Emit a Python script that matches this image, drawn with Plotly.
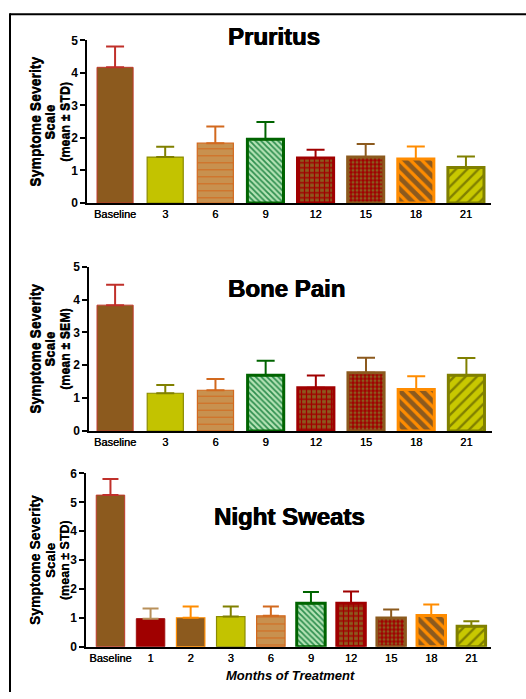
import plotly.graph_objects as go

# ---------------- data ----------------
pruritus_cats = ["Baseline", "3", "6", "9", "12", "15", "18", "21"]
pruritus_mean = [4.17, 1.41, 1.84, 1.96, 1.38, 1.41, 1.35, 1.09]
pruritus_err = [0.64, 0.32, 0.51, 0.53, 0.26, 0.40, 0.39, 0.34]

bone_cats = ["Baseline", "3", "6", "9", "12", "15", "18", "21"]
bone_mean = [3.83, 1.15, 1.24, 1.70, 1.32, 1.77, 1.26, 1.70]
bone_err = [0.62, 0.25, 0.34, 0.44, 0.37, 0.46, 0.41, 0.52]

night_cats = ["Baseline", "1", "2", "3", "6", "9", "12", "15", "18", "21"]
night_mean = [5.25, 0.97, 1.00, 1.04, 1.07, 1.50, 1.50, 0.99, 1.08, 0.71]
night_err = [0.56, 0.35, 0.39, 0.35, 0.32, 0.39, 0.41, 0.30, 0.38, 0.17]

titles = ["Pruritus", "Bone Pain", "Night Sweats"]
ylabel_line3 = ["(mean \u00b1 STD)", "(mean \u00b1 SEM)", "(mean \u00b1 STD)"]
xaxis_title = "Months of Treatment"

# ---------------- styles ----------------
BROWN = "#8c5a1e"
RED = "#a00000"
OLIVE = "#808000"
ORANGE = "#ff8c00"
styles = {
    "Baseline": dict(bg=BROWN, shape="", fg=None, size=8, sol=0.3, lc="#c0392b", lw=1, ec="#c0302a"),
    "1": dict(bg=RED, shape="", fg=None, size=8, sol=0.3, lc="#a01010", lw=1, ec="#b8905a"),
    "2": dict(bg=BROWN, shape="", fg=None, size=8, sol=0.3, lc=ORANGE, lw=1.2, ec=ORANGE),
    "3": dict(bg="#c3c300", shape="", fg=None, size=8, sol=0.3, lc="#8b8b00", lw=1.2, ec=OLIVE),
    "6": dict(bg="#c8914f", shape="-", fg="#d2691e", size=7, sol=0.15, lc="#d2691e", lw=1.2, ec="#d2691e"),
    "9": dict(bg="#b5e3b5", shape="\\", fg="#2f8f4f", size=4, sol=0.45, lc="#006400", lw=3, ec="#006400"),
    "12": dict(bg=BROWN, shape="+", fg=RED, size=5, sol=0.45, lc=RED, lw=3, ec=RED),
    "15": dict(bg=RED, shape=".", fg=BROWN, size=4, sol=0.45, lc=BROWN, lw=3, ec=BROWN),
    "18": dict(bg=BROWN, shape="\\", fg=ORANGE, size=8, sol=0.4, lc=ORANGE, lw=3, ec=ORANGE),
    "21": dict(bg="#c8c800", shape="/", fg=OLIVE, size=8, sol=0.3, lc=OLIVE, lw=3, ec=OLIVE),
}

W, H = 526, 699
FONT = "Liberation Sans, Arial, sans-serif"
HEAVY = "0.6px 0 0 black, -0.3px 0 0 black"

# panel geometry in pixels: (x_left, x_right, y_top, y_bottom, x_range, y_max, bar_width, cap)
panels = [
    (87, 491, 34, 200, [-0.56, 7.5], 5, 0.72, 9),
    (89, 492, 265, 432.7, [-0.52, 7.51], 5, 0.72, 9),
    (86, 491, 476, 652.7, [-0.61, 9.49], 6, 0.71, 8),
]
datasets = [
    (pruritus_cats, pruritus_mean, pruritus_err),
    (bone_cats, bone_mean, bone_err),
    (night_cats, night_mean, night_err),
]

fig = go.Figure()
layout = dict(
    width=W, height=H, margin=dict(l=0, r=0, t=0, b=0),
    paper_bgcolor="white", plot_bgcolor="white",
    showlegend=False, barmode="overlay",
    font=dict(family=FONT, color="black"),
)
annotations = []

for i, ((xl, xr, yt, yb, xrange, ymax, bw, cap), (cats, means, errs)) in enumerate(zip(panels, datasets)):
    n = "" if i == 0 else str(i + 1)
    xa, ya = "x" + n, "y" + n
    for c, m, e in zip(cats, means, errs):
        s = styles[c]
        marker = dict(color=s["bg"], line=dict(color=s["lc"], width=s["lw"]))
        if s["shape"]:
            marker["pattern"] = dict(shape=s["shape"], fgcolor=s["fg"], bgcolor=s["bg"],
                                     size=s["size"], solidity=s["sol"], fgopacity=1)
        fig.add_trace(go.Bar(
            x=[c], y=[m], width=bw, xaxis=xa, yaxis=ya, marker=marker,
            error_y=dict(type="data", symmetric=False, array=[e], arrayminus=[0],
                         color=s["ec"], thickness=2, width=cap),
        ))
    layout["xaxis" + n] = dict(
        domain=[xl / W, xr / W], anchor=ya, type="category",
        categoryorder="array", categoryarray=cats, range=xrange,
        showline=True, linecolor="black", linewidth=2, ticks="",
        showgrid=False, zeroline=False,
        tickfont=dict(size=11, family=FONT, color="black", shadow="0.3px 0 0 black"),
    )
    layout["yaxis" + n] = dict(
        domain=[1 - yb / H, 1 - yt / H], anchor=xa, range=[0, ymax], dtick=1,
        showline=True, linecolor="black", linewidth=1.5, ticks="outside",
        ticklen=5, tickwidth=1.5, tickcolor="black", showgrid=False, zeroline=False,
        tickfont=dict(size=12, family=FONT, color="black", weight="bold"),
    )
    yc = 1 - ((yt + yb) / 2) / H
    lines = [("Symptome Severity", 35, 14), ("Scale", 50, 13.5), (ylabel_line3[i], 65, 12.5)]
    for txt, xp, fs in lines:
        annotations.append(dict(
            text=txt, xref="paper", yref="paper", x=xp / W, y=yc,
            xanchor="center", yanchor="middle", textangle=-90, showarrow=False,
            font=dict(size=fs, family=FONT, color="black", weight="bold",
                      shadow="0 0.4px 0 black"),
        ))

title_pos = [(274, 30), (286, 287), (289, 520)]
for t, (tx, ty) in zip(titles, title_pos):
    annotations.append(dict(
        text=t, xref="paper", yref="paper", x=tx / W, y=1 - ty / H,
        xanchor="center", yanchor="middle", showarrow=False,
        font=dict(size=24, family=FONT, color="black", weight="bold", shadow=HEAVY),
    ))

annotations.append(dict(
    text="<b><i>" + xaxis_title + "</i></b>", xref="paper", yref="paper",
    x=290 / W, y=1 - 682 / H, xanchor="center", yanchor="middle", showarrow=False,
    font=dict(size=13, family=FONT, color="black"),
))

layout["annotations"] = annotations
layout["shapes"] = [
    dict(type="line", xref="paper", yref="paper", x0=10 / W, x1=1, y0=1 - 7.5 / H, y1=1 - 7.5 / H,
         line=dict(color="black", width=2)),
    dict(type="line", xref="paper", yref="paper", x0=10 / W, x1=10 / W, y0=0, y1=1 - 6.5 / H,
         line=dict(color="black", width=2)),
]
fig.update_layout(**layout)
fig.write_html("out.html")
